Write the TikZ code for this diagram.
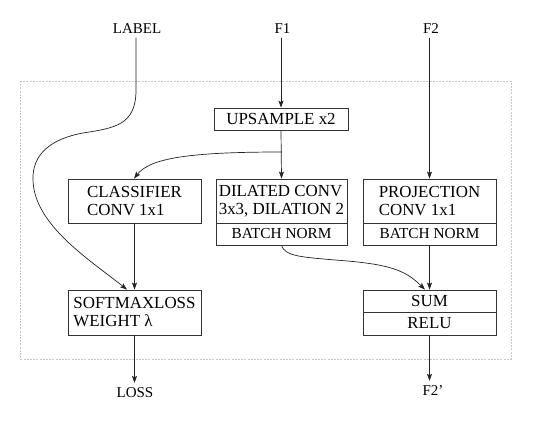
\documentclass[tikz,border=0pt]{standalone}
\usepackage{fontspec}
\setmainfont{Liberation Serif}
\usetikzlibrary{arrows.meta}
\definecolor{boxc}{HTML}{333333}
\definecolor{linec}{HTML}{222222}
\definecolor{framec}{HTML}{C8C8C8}
\begin{document}
\begin{tikzpicture}[x=1pt,y=-1pt,
  box/.style={draw=boxc, line width=0.8pt, inner sep=0pt, align=left,
    font=\fontsize{16.9}{18}\selectfont},
  lbl/.style={anchor=base, inner sep=4pt, font=\fontsize{15}{18}\selectfont},
  arr/.style={draw=linec, line width=0.7pt, -{Stealth[length=7pt,width=5pt,inset=1.5pt]}},
  frame/.style={draw=framec, line width=0.7pt, dash pattern=on 2pt off 1.2pt}]
\useasboundingbox (0,0) rectangle (534,427);
\draw[frame] (20,81) rectangle (511,359);

% outer labels
\node[lbl] (label) at (137,33.5) {LABEL};
\node[lbl] (f1) at (282.5,33.5) {F1};
\node[lbl] (f2) at (431,33.5) {F2};
\node[lbl] (loss) at (135,397) {LOSS};
\node[lbl] (f2o) at (433,395) {F2'};

% boxes
\node[box, minimum width=134pt, minimum height=22pt] (up) at (281,119) {UPSAMPLE x2};
\node[box, minimum width=133pt, minimum height=44pt] (cls) at (134.5,201) {CLASSIFIER\\CONV 1x1};
\node[box, minimum width=131pt, minimum height=44pt] (dil) at (281.5,201) {DILATED CONV\\3x3, DILATION 2};
\node[box, minimum width=131pt, minimum height=22pt, font=\fontsize{15.3}{18}\selectfont] (dilbn) at (281.5,234) {BATCH NORM};
\node[box, minimum width=133pt, minimum height=44pt] (proj) at (429.5,201) {PROJECTION\\CONV 1x1};
\node[box, minimum width=133pt, minimum height=22pt, font=\fontsize{15.3}{18}\selectfont] (projbn) at (429.5,234) {BATCH NORM};
\node[box, minimum width=133pt, minimum height=45pt] (soft) at (134.5,312.5) {SOFTMAXLOSS\\WEIGHT λ};
\node[box, minimum width=133pt, minimum height=22pt] (sum) at (429.5,301) {SUM};
\node[box, minimum width=133pt, minimum height=23pt] (relu) at (429.5,323.5) {RELU};

\coordinate (branch) at (282,152);

% connectors
\draw[arr] (f1.south -| up.north) -- (up.north);
\draw[arr] (up.south) -- (dil.north);
\draw[arr] (branch) .. controls (190,152) and (150,158) .. ([xshift=-0.5pt]cls.north);
\draw[arr] (cls.south) -- (soft.north);
\draw[arr] (soft.south) -- (soft.south |- loss.north);
\draw[arr] ([xshift=-1pt]label.south) -- (136,90)
  .. controls (136,125) and (115,128) .. (83,133)
  .. controls (50,139) and (32,155) .. (33,180)
  .. controls (34,225) and (90,260) .. ([xshift=-7.5pt]soft.north);
\draw[arr] (f2.south -| proj.north) -- (proj.north);
\draw[arr] (projbn.south) -- (sum.north);
\draw[arr] (dilbn.south) .. controls (285,256) and (300,257) .. (335,260)
  .. controls (390,264) and (405,270) .. ([xshift=-4.5pt]sum.north);
\draw[arr] (relu.south) -- (relu.south |- f2o.north);
\end{tikzpicture}
\end{document}
